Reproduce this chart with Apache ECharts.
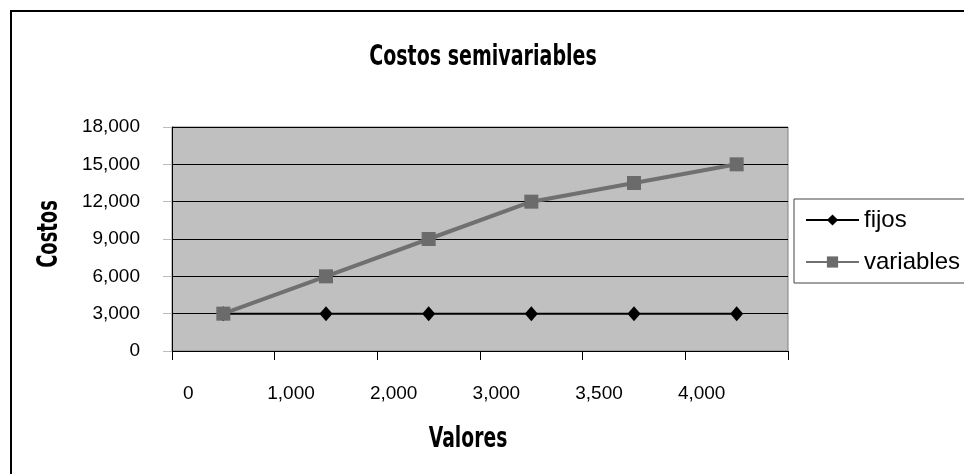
<!DOCTYPE html>
<html>
<head>
<meta charset="utf-8">
<script src="https://cdn.jsdelivr.net/npm/echarts@6/dist/echarts.min.js"></script>
<style>
html, body { margin: 0; padding: 0; background: #fff; }
#chart { width: 964px; height: 474px; }
</style>
</head>
<body>
<div id="chart"></div>
<script>
// categories on the x axis
const valores = ['0', '1,000', '2,000', '3,000', '3,500', '4,000'];
// series values
const fijos = [3000, 3000, 3000, 3000, 3000, 3000];
const variables = [3000, 6000, 9000, 12000, 13500, 15000];

const tickFont = '"Liberation Sans", Arial, sans-serif';

// bold, squeezed sideways like the condensed face of the original
function condensedText(text, x, y, scaleX, rotation) {
    return {
        type: 'text',
        x: x,
        y: y,
        scaleX: scaleX,
        rotation: rotation || 0,
        silent: true,
        style: {
            text: text,
            fontFamily: '"DejaVu Sans", sans-serif',
            fontWeight: 'bold',
            fontSize: 28,
            fill: '#000',
            align: 'center',
            verticalAlign: 'middle',
            textAlign: 'center',
            textVerticalAlign: 'middle'
        }
    };
}

const chart = echarts.init(document.getElementById('chart'));
const option = {
    animation: false,
    backgroundColor: '#fff',
    graphic: [
        {
            type: 'rect',
            shape: { x: 11, y: 11, width: 1000, height: 500 },
            style: { fill: 'none', stroke: '#000', lineWidth: 2 },
            silent: true
        },
        condensedText('Costos semivariables', 483, 58, 0.68),
        condensedText('Valores', 468, 440, 0.67),
        condensedText('Costos', 50, 234, 0.64, Math.PI / 2)
    ],
    legend: {
        left: 794,
        top: 199,
        orient: 'vertical',
        padding: [9, 40, 9, 11],
        itemGap: 18,
        itemWidth: 53,
        itemHeight: 14,
        borderColor: '#444',
        borderWidth: 1,
        textStyle: {
            fontFamily: tickFont,
            fontSize: 24,
            color: '#000'
        },
        data: [
            { name: 'fijos', lineStyle: { width: 2 } },
            { name: 'variables', lineStyle: { width: 2 } }
        ]
    },
    grid: {
        left: 172,
        top: 127,
        width: 616,
        height: 224,
        show: true,
        backgroundColor: '#c0c0c0',
        borderColor: '#808080',
        borderWidth: 1
    },
    xAxis: {
        type: 'category',
        data: valores,
        boundaryGap: true,
        axisLine: { lineStyle: { color: '#000', width: 1 } },
        axisTick: { show: true, length: 9, lineStyle: { color: '#000' } },
        axisLabel: {
            interval: 0,
            margin: 33,
            padding: [0, 70, 0, 0],
            fontFamily: tickFont,
            fontSize: 19,
            color: '#000'
        },
        splitLine: { show: false }
    },
    yAxis: {
        type: 'value',
        min: 0,
        max: 18000,
        interval: 3000,
        axisLine: { show: true, lineStyle: { color: '#000', width: 1 } },
        axisTick: { show: true, length: 9, lineStyle: { color: '#bbb' } },
        axisLabel: {
            margin: 32,
            fontFamily: tickFont,
            fontSize: 19,
            color: '#000',
            formatter: v => v.toLocaleString('en-US')
        },
        splitLine: { show: true, lineStyle: { color: '#000', width: 1 } }
    },
    series: [
        {
            name: 'fijos',
            type: 'line',
            data: fijos,
            symbol: 'diamond',
            symbolSize: [13, 15],
            z: 3,
            itemStyle: { color: '#000' },
            lineStyle: { color: '#000', width: 2 }
        },
        {
            name: 'variables',
            type: 'line',
            data: variables,
            symbol: 'rect',
            symbolSize: 14,
            z: 4,
            itemStyle: { color: '#6b6b6b' },
            lineStyle: { color: '#707070', width: 4 }
        }
    ]
};
chart.setOption(option);
</script>
</body>
</html>
